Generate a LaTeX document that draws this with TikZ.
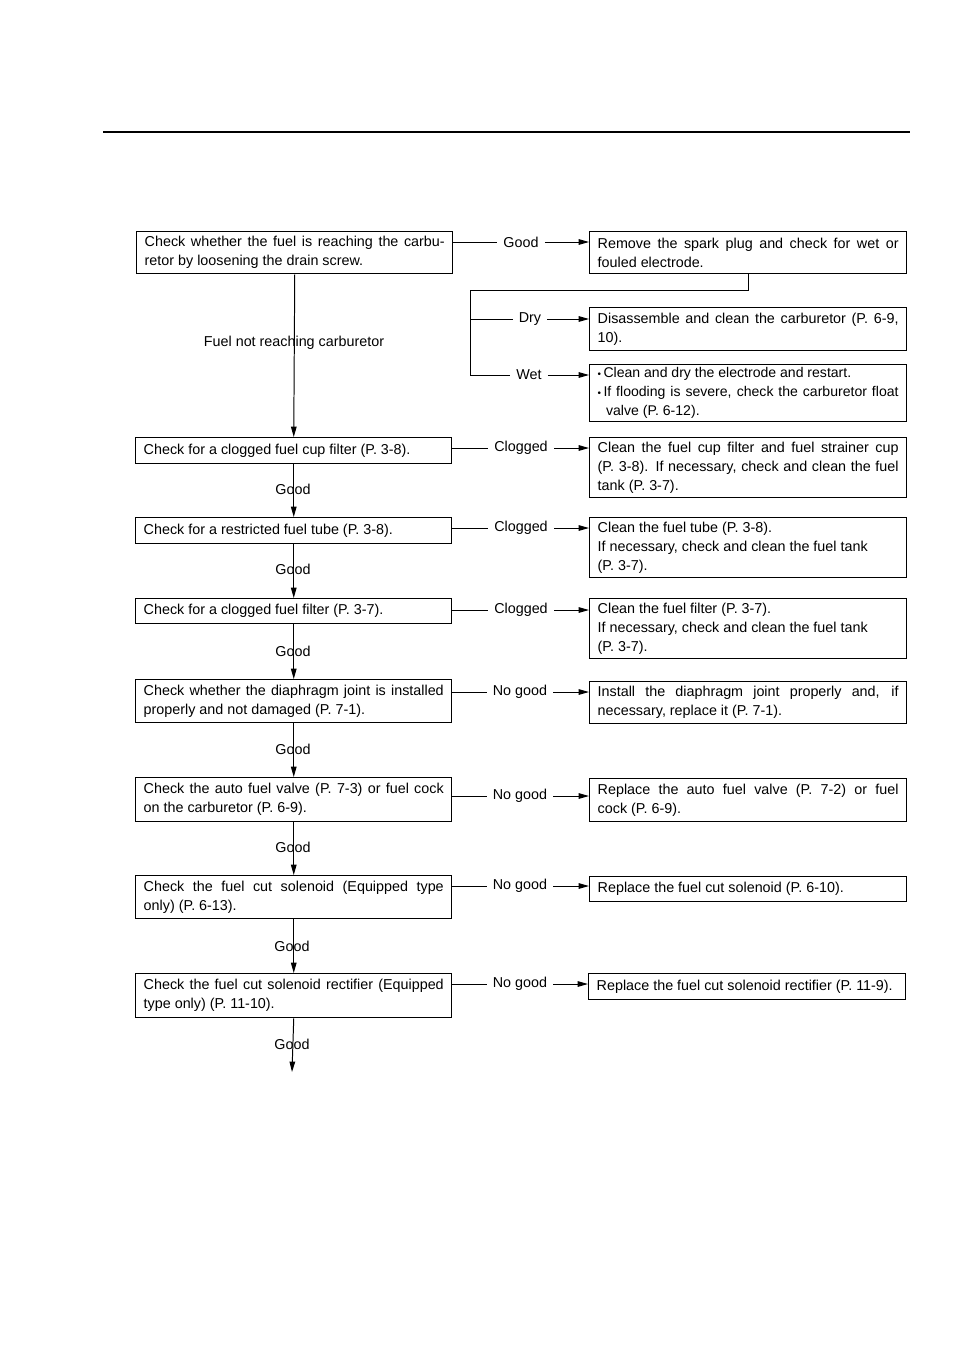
\documentclass[tikz,border=0pt]{standalone}
\usepackage{fontspec}
\setmainfont{Liberation Sans}
\usetikzlibrary{arrows.meta}

\begin{document}
\begin{tikzpicture}[x=0.025cm,y=-0.025cm,
  font=\fontsize{10.2}{13.5}\selectfont,
  chk/.style={draw,line width=1pt,anchor=north west,text width=7.5cm,inner xsep=0.2cm,inner ysep=0pt,align=justify},
  fix/.style={chk,text width=7.52cm},
  lbl/.style={inner xsep=0.15cm,inner ysep=1pt},
  arr/.style={-{Triangle[length=2.6mm,width=1.4mm]},line width=0.7pt},
  ln/.style={line width=0.7pt}
]
\useasboundingbox (0,0) rectangle (954,1350);
\coordinate (ruleL) at (103,132);
\coordinate (ruleR) at (910,132);
\draw[line width=1pt] (ruleL) -- (ruleR);

\node[chk,minimum height=1.05cm] (A1) at (136,231) {Check whether the fuel is reaching the carbu-\linebreak retor by loosening the drain screw.};
\node[fix,minimum height=1.05cm] (R1) at (589,231) {Remove the spark plug and check for wet or\linebreak fouled electrode.};
\node[fix,minimum height=1.075cm] (R2) at (589,307) {Disassemble and clean the carburetor (P. 6-9,\linebreak 10).};
\node[fix,minimum height=1.425cm,font=\fontsize{10}{13.5}\selectfont] (R3) at (589,364) {{\scriptsize\textbullet}\,Clean and dry the electrode and restart.\\ {\scriptsize\textbullet}\,If flooding is severe, check the carburetor float\linebreak \hspace*{0.6em}valve (P. 6-12).};

\node[chk,minimum height=0.65cm] (A2) at (135,437) {Check for a clogged fuel cup filter (P. 3-8).};
\node[fix,minimum height=1.5cm] (R4) at (589,437) {Clean the fuel cup filter and fuel strainer cup\linebreak (P. 3-8). If necessary, check and clean the fuel\linebreak tank (P. 3-7).};
\node[chk,minimum height=0.65cm] (A3) at (135,517) {Check for a restricted fuel tube (P. 3-8).};
\node[fix,minimum height=1.5cm] (R5) at (589,517) {Clean the fuel tube (P. 3-8).\\ If necessary, check and clean the fuel tank\\ (P. 3-7).};
\node[chk,minimum height=0.625cm] (A4) at (135,598) {Check for a clogged fuel filter (P. 3-7).};
\node[fix,minimum height=1.5cm] (R6) at (589,598) {Clean the fuel filter (P. 3-7).\\ If necessary, check and clean the fuel tank\\ (P. 3-7).};
\node[chk,minimum height=1.075cm] (A5) at (135,679) {Check whether the diaphragm joint is installed\linebreak properly and not damaged (P. 7-1).};
\node[fix,minimum height=1.05cm] (R7) at (589,681) {Install the diaphragm joint properly and, if\linebreak necessary, replace it (P. 7-1).};
\node[chk,minimum height=1.1cm] (A6) at (135,777) {Check the auto fuel valve (P. 7-3) or fuel cock\linebreak on the carburetor (P. 6-9).};
\node[fix,minimum height=1.075cm] (R8) at (589,778) {Replace the auto fuel valve (P. 7-2) or fuel\linebreak cock (P. 6-9).};
\node[chk,minimum height=1.075cm] (A7) at (135,875) {Check the fuel cut solenoid (Equipped type\linebreak only) (P. 6-13).};
\node[fix,minimum height=0.625cm] (R9) at (589,876) {Replace the fuel cut solenoid (P. 6-10).};
\node[chk,minimum height=1.1cm] (A8) at (135,973) {Check the fuel cut solenoid rectifier (Equipped\linebreak type only) (P. 11-10).};
\node[fix,minimum height=0.65cm] (R10) at (588,973) {Replace the fuel cut solenoid rectifier (P. 11-9).};

\node[lbl] (g1) at (521,242) {Good};
\node[lbl] (dry) at (530,319) {Dry};
\node[lbl] (wet) at (529,375) {Wet};
\node[lbl] (c1) at (521,448) {Clogged};
\node[lbl] (c2) at (521,528) {Clogged};
\node[lbl] (c3) at (521,610) {Clogged};
\node[lbl] (n1) at (520,692) {No good};
\node[lbl] (n2) at (520,796) {No good};
\node[lbl] (n3) at (520,886) {No good};
\node[lbl] (n4) at (520,984) {No good};

\node (fnr) at (294,343) {Fuel not reaching carburetor};
\node (v1) at (293,489) {Good};
\node (v2) at (293,569) {Good};
\node (v3) at (293,651) {Good};
\node (v4) at (293,749) {Good};
\node (v5) at (293,847) {Good};
\node (v6) at (292,946) {Good};
\node (v7) at (292,1044) {Good};
\coordinate (split) at (470,290);
\coordinate (last) at (292,1072);

\draw[ln] (A1.east |- g1) -- (g1.west);
\draw[arr] (g1.east) -- (R1.west |- g1);
\draw[ln] (R1.south) |- (split) |- (wet.west);
\draw[ln] (split |- dry) -- (dry.west);
\draw[arr] (dry.east) -- (R2.west |- dry);
\draw[arr] (wet.east) -- (R3.west |- wet);

\draw[ln] (A2.east |- c1) -- (c1.west);
\draw[arr] (c1.east) -- (R4.west |- c1);
\draw[ln] (A3.east |- c2) -- (c2.west);
\draw[arr] (c2.east) -- (R5.west |- c2);
\draw[ln] (A4.east |- c3) -- (c3.west);
\draw[arr] (c3.east) -- (R6.west |- c3);
\draw[ln] (A5.east |- n1) -- (n1.west);
\draw[arr] (n1.east) -- (R7.west |- n1);
\draw[ln] (A6.east |- n2) -- (n2.west);
\draw[arr] (n2.east) -- (R8.west |- n2);
\draw[ln] (A7.east |- n3) -- (n3.west);
\draw[arr] (n3.east) -- (R9.west |- n3);
\draw[ln] (A8.east |- n4) -- (n4.west);
\draw[arr] (n4.east) -- (R10.west |- n4);

\draw[arr] (A1.south) -- (A2.north);
\draw[arr] (A2.south) -- (A3.north);
\draw[arr] (A3.south) -- (A4.north);
\draw[arr] (A4.south) -- (A5.north);
\draw[arr] (A5.south) -- (A6.north);
\draw[arr] (A6.south) -- (A7.north);
\draw[arr] (A7.south) -- (A8.north);
\draw[arr] (A8.south) -- (last);
\end{tikzpicture}
\end{document}
